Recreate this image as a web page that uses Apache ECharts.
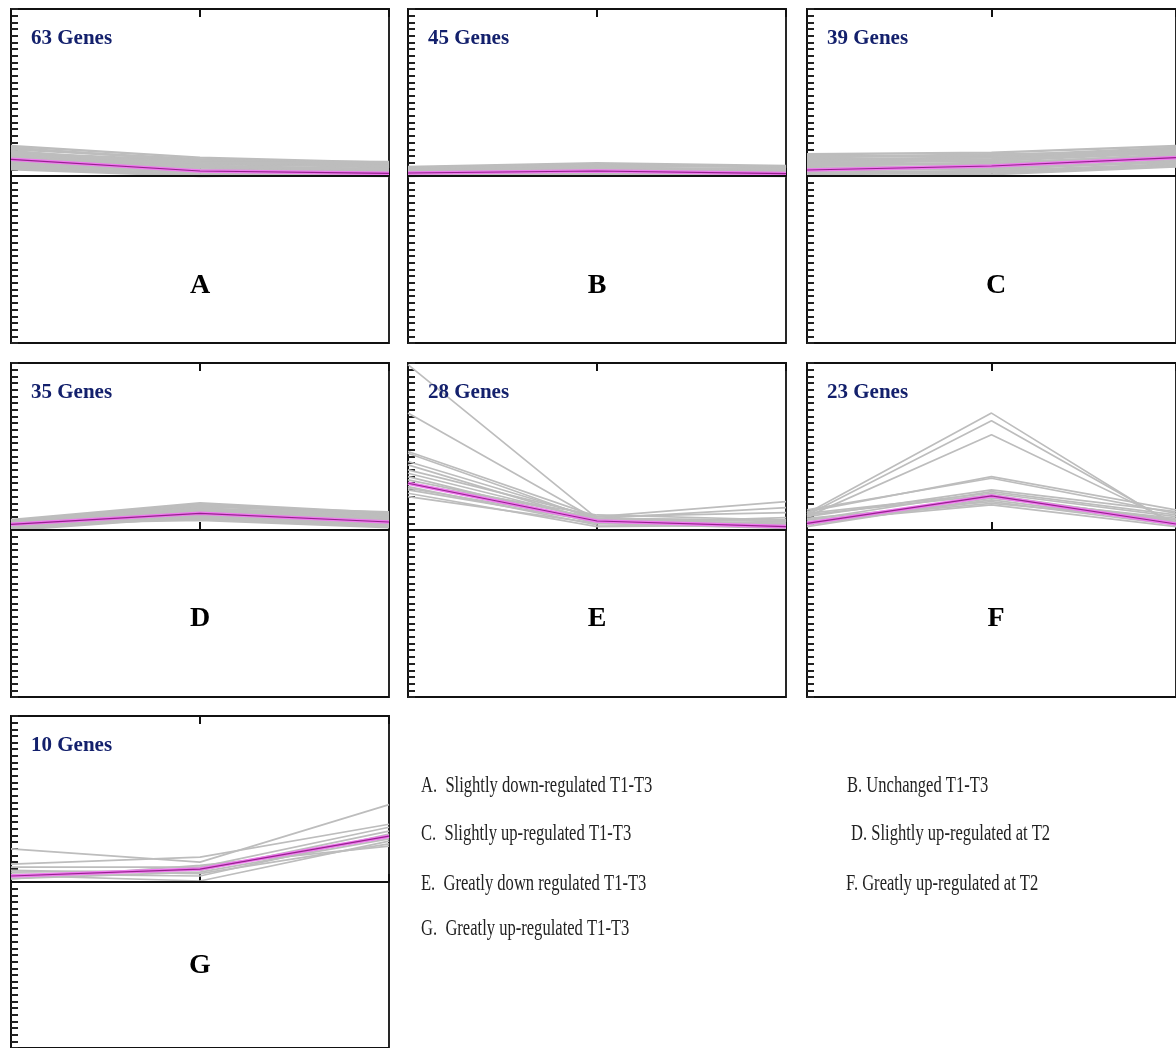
<!DOCTYPE html>
<html>
<head>
<meta charset="utf-8">
<script src="https://cdn.jsdelivr.net/npm/echarts@6/dist/echarts.min.js"></script>
<style>
html,body{margin:0;padding:0;background:#fff;}
#chart{width:1176px;height:1048px;}
</style>
</head>
<body>
<div id="chart"></div>
<script>
// ---------- DATA ----------
const timePoints = ['T1', 'T2', 'T3'];
const panelLetters = ['A', 'B', 'C', 'D', 'E', 'F', 'G'];
const geneCounts = [63, 45, 39, 35, 28, 23, 10];
const descriptions = [
  'A.  Slightly down-regulated T1-T3',
  'B. Unchanged T1-T3',
  'C.  Slightly up-regulated T1-T3',
  'D. Slightly up-regulated at T2',
  'E.  Greatly down regulated T1-T3',
  'F. Greatly up-regulated at T2',
  'G.  Greatly up-regulated T1-T3'
];

// gene expression profiles (log ratio) per cluster, T1..T3
const genesA = [
  [0.9, 0.55, 0.4], [0.8, 0.5, 0.35], [0.7, 0.45, 0.42], [0.6, 0.35, 0.3],
  [0.55, 0.3, 0.2], [0.5, 0.25, 0.15], [0.45, 0.2, 0.1], [0.4, 0.15, 0.12],
  [0.35, 0.1, 0.05], [0.3, 0.05, 0.06], [0.25, 0.05, 0.0], [0.2, 0.0, 0.05],
  [0.65, 0.4, 0.25], [0.75, 0.3, 0.2], [0.85, 0.45, 0.3], [0.5, 0.4, 0.38]
];
const meanA = [0.5, 0.15, 0.08];

const genesB = [
  [0.27, 0.38, 0.3], [0.25, 0.35, 0.25], [0.2, 0.3, 0.28], [0.15, 0.25, 0.2],
  [0.1, 0.2, 0.15], [0.05, 0.15, 0.1], [0.0, 0.1, 0.05], [0.05, 0.05, 0.0],
  [0.1, 0.12, 0.08], [0.02, 0.08, 0.02], [0.18, 0.22, 0.12]
];
const meanB = [0.09, 0.15, 0.07];

const genesC = [
  [0.65, 0.7, 0.9], [0.6, 0.6, 0.85], [0.5, 0.55, 0.8], [0.45, 0.5, 0.75],
  [0.4, 0.45, 0.7], [0.3, 0.4, 0.6], [0.25, 0.3, 0.5], [0.2, 0.2, 0.45],
  [0.1, 0.15, 0.35], [0.05, 0.1, 0.3], [0.15, 0.25, 0.4], [0.35, 0.35, 0.65],
  [0.55, 0.65, 0.72], [0.1, 0.05, 0.28]
];
const meanC = [0.18, 0.3, 0.55];

const genesD = [
  [0.3, 0.8, 0.5], [0.25, 0.7, 0.53], [0.2, 0.65, 0.4], [0.15, 0.6, 0.35],
  [0.1, 0.55, 0.3], [0.05, 0.45, 0.2], [0.0, 0.4, 0.15], [0.1, 0.35, 0.1],
  [0.2, 0.3, 0.08], [0.05, 0.5, 0.25], [0.25, 0.75, 0.45], [0.12, 0.62, 0.48]
];
const meanD = [0.17, 0.5, 0.24];

const genesE = [
  [4.95, 0.35, 0.3], [3.5, 0.3, 0.2], [2.35, 0.4, 0.85], [2.3, 0.3, 0.2],
  [2.05, 0.35, 0.67], [1.95, 0.25, 0.15], [1.8, 0.4, 0.52], [1.7, 0.3, 0.3],
  [1.6, 0.2, 0.37], [1.5, 0.35, 0.25], [1.3, 0.15, 0.1], [1.2, 0.25, 0.2],
  [1.1, 0.1, 0.15], [1.0, 0.2, 0.05], [1.4, 0.45, 0.3], [1.25, 0.3, 0.1]
];
const meanE = [1.4, 0.27, 0.1];

const genesF = [
  [0.5, 3.5, 0.1], [0.45, 3.27, 0.15], [0.4, 2.85, 0.2], [0.55, 1.6, 0.6],
  [0.6, 1.55, 0.5], [0.4, 1.2, 0.55], [0.3, 1.15, 0.45], [0.5, 1.1, 0.4],
  [0.2, 1.0, 0.3], [0.15, 0.9, 0.2], [0.35, 0.85, 0.15], [0.25, 0.75, 0.1],
  [0.1, 0.95, 0.35], [0.45, 1.05, 0.25], [0.3, 0.8, 0.3]
];
const meanF = [0.2, 1.02, 0.18];

const genesG = [
  [1.0, 0.6, 2.33], [0.54, 0.75, 1.74], [0.45, 0.45, 1.65], [0.3, 0.35, 1.53],
  [0.24, 0.18, 1.44], [0.1, 0.3, 1.3], [0.2, 0.03, 1.23], [0.09, 0.5, 1.08],
  [0.15, 0.4, 1.35], [0.35, 0.25, 1.15]
];
const meanG = [0.18, 0.39, 1.38];

const yMin = -5, yMax = 5, yStep = 0.2;

// ---------- LAYOUT ----------
const clusters = [
  { genes: genesA, mean: meanA, left: 11,  top: 9,   lw: 2.4 },
  { genes: genesB, mean: meanB, left: 408, top: 9,   lw: 2.4 },
  { genes: genesC, mean: meanC, left: 807, top: 9,   lw: 2.4 },
  { genes: genesD, mean: meanD, left: 11,  top: 363, lw: 2.4 },
  { genes: genesE, mean: meanE, left: 408, top: 363, lw: 1.7 },
  { genes: genesF, mean: meanF, left: 807, top: 363, lw: 1.7 },
  { genes: genesG, mean: meanG, left: 11,  top: 716, lw: 1.7 }
];
const W = 378, H = 334;
const letterOffsetY = [277, 277, 277, 256, 256, 256, 250];

const grid = [], xAxis = [], yAxis = [], series = [], graphic = [];
clusters.forEach((c, i) => {
  grid.push({ left: c.left, top: c.top, width: W, height: H, show: true,
    borderColor: '#111', borderWidth: 1.8, backgroundColor: '#fff' });
  const xBase = {
    type: 'category', data: timePoints, gridIndex: i, boundaryGap: false,
    axisLabel: { show: false }, splitLine: { show: false },
    axisLine: { show: true, lineStyle: { color: '#111', width: 1.8 } },
    axisTick: { show: true, inside: true, length: 8, lineStyle: { color: '#111', width: 2 } }
  };
  xAxis.push(Object.assign({}, xBase, { position: 'bottom' }));
  xAxis.push(Object.assign({}, xBase, { position: 'top' }));
  yAxis.push({
    type: 'value', gridIndex: i, min: yMin, max: yMax, interval: yStep,
    axisLabel: { show: false }, splitLine: { show: false },
    axisLine: { show: true, onZero: false, lineStyle: { color: '#111', width: 1.8 } },
    axisTick: { show: true, inside: true, length: 7, lineStyle: { color: '#222', width: 2 } }
  });
  c.genes.forEach(g => {
    series.push({
      type: 'line', xAxisIndex: 2 * i, yAxisIndex: i, data: g, symbol: 'none',
      silent: true, animation: false, z: 2,
      lineStyle: { color: '#bdbdbd', width: c.lw }
    });
  });
  series.push({
    type: 'line', xAxisIndex: 2 * i, yAxisIndex: i, data: c.mean, symbol: 'none',
    silent: true, animation: false, z: 4,
    lineStyle: { color: '#ee7aee', width: 3.6 },
    markLine: {
      silent: true, symbol: 'none', animation: false, label: { show: false },
      lineStyle: { color: '#111', width: 2, type: 'solid' },
      data: [{ yAxis: 0 }]
    }
  });
  series.push({
    type: 'line', xAxisIndex: 2 * i, yAxisIndex: i, data: c.mean, symbol: 'none',
    silent: true, animation: false, z: 5,
    lineStyle: { color: '#98208f', width: 1.2 }
  });
  graphic.push({
    type: 'text', left: c.left + 20, top: c.top + 19, z: 10,
    style: { text: geneCounts[i] + ' Genes', fill: '#13206c',
      font: 'bold 21px "Liberation Serif", "Times New Roman", serif' }
  });
  graphic.push({
    type: 'text', x: c.left + W / 2, y: c.top + letterOffsetY[i], z: 10,
    style: { text: panelLetters[i], fill: '#000', align: 'center', verticalAlign: 'middle',
      font: 'bold 28px "Liberation Serif", "Times New Roman", serif' }
  });
});

const descPos = [
  [421, 786], [847, 786], [421, 834], [851, 834], [421, 884], [846, 884], [421, 929]
];
descriptions.forEach((d, k) => {
  graphic.push({
    type: 'text', x: descPos[k][0], y: descPos[k][1], scaleX: 0.72, z: 10,
    style: { text: d, fill: '#222', align: 'left', verticalAlign: 'middle',
      font: '23px "Liberation Serif", "Times New Roman", serif' }
  });
});

const chart = echarts.init(document.getElementById('chart'), null, { renderer: 'canvas' });
chart.setOption({
  backgroundColor: '#fff',
  animation: false,
  grid, xAxis, yAxis, series, graphic
});
</script>
</body>
</html>
